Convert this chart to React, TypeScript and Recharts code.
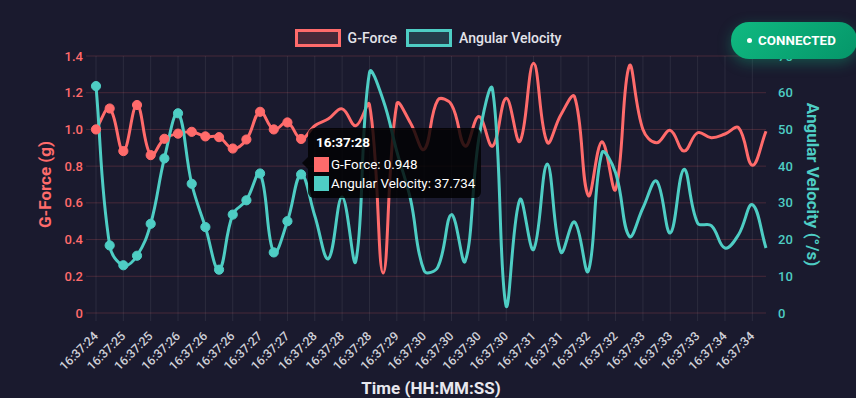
import React from 'react';
import { LineChart, Line, XAxis, YAxis, CartesianGrid, Tooltip, Label } from 'recharts';

const TIMES = [
  '16:37:24', '16:37:24', '16:37:25', '16:37:25', '16:37:25', '16:37:25', '16:37:26', '16:37:26', '16:37:26', '16:37:26',
  '16:37:26', '16:37:27', '16:37:27', '16:37:27', '16:37:27', '16:37:28', '16:37:28', '16:37:28', '16:37:28', '16:37:28',
  '16:37:28', '16:37:29', '16:37:29', '16:37:29', '16:37:30', '16:37:30', '16:37:30', '16:37:30', '16:37:30', '16:37:30',
  '16:37:30', '16:37:31', '16:37:31', '16:37:31', '16:37:31', '16:37:32', '16:37:32', '16:37:32', '16:37:32', '16:37:33',
  '16:37:33', '16:37:33', '16:37:33', '16:37:33', '16:37:33', '16:37:34', '16:37:34', '16:37:34', '16:37:34', '16:37:34',
];

const G_FORCE = [
  1.0, 1.114, 0.882, 1.133, 0.86, 0.949, 0.977, 0.987, 0.962, 0.958,
  0.896, 0.945, 1.096, 1.0, 1.038, 0.948, 1.02, 1.058, 1.112, 1.02,
  1.136, 0.218, 1.138, 1.035, 0.891, 1.16, 1.135, 0.909, 1.07, 0.909,
  1.17, 0.935, 1.36, 0.93, 1.08, 1.178, 0.64, 0.933, 0.673, 1.345,
  1.0, 0.927, 0.995, 0.882, 0.982, 0.955, 0.975, 1.009, 0.805, 0.99,
];

const ANGULAR = [
  61.8, 18.4, 13.0, 15.6, 24.3, 42.1, 54.4, 35.2, 23.4, 11.8,
  26.8, 30.7, 38.0, 16.5, 25.0, 37.734, 26.5, 14.8, 31.6, 14.1,
  65.5, 58.0, 44.0, 31.0, 11.5, 12.5, 26.8, 14.1, 47.5, 60.9,
  1.8, 30.9, 17.3, 40.6, 16.6, 24.8, 11.4, 43.6, 38.2, 20.9,
  28.6, 35.9, 21.8, 39.1, 24.5, 23.8, 17.7, 21.4, 29.5, 17.7,
];

const SERIES_NAMES = ['G-Force', 'Angular Velocity'];
const LEFT_TICKS = [0, 0.2, 0.4, 0.6, 0.8, 1.0, 1.2, 1.4];
const RIGHT_TICKS = [0, 10, 20, 30, 40, 50, 60, 70];
const TOOLTIP_INDEX = 15;
const DOTTED_POINTS = 16;

const data = TIMES.map((t, i) => ({ time: t, g: G_FORCE[i], av: ANGULAR[i] }));

const BG = '#1a1a2e';
const RED = '#ff6b6b';
const CYAN = '#4ecdc4';
const W = 856;
const H = 398;
const MARGIN = { top: 56, right: 0, bottom: 0, left: 0 };
const LEFT_W = 96;
const RIGHT_W = 90;
const XAXIS_H = 85;
const AREA = { left: LEFT_W, right: W - RIGHT_W, top: MARGIN.top, bottom: H - XAXIS_H };

// Chart.js-like spline (tension 0.4) with control points capped to the chart area
const splineCurve = (tension: number) => (context: any) => {
  let pts: number[][] = [];
  const cap = (p: number[]) => [
    Math.min(Math.max(p[0], AREA.left), AREA.right),
    Math.min(Math.max(p[1], AREA.top), AREA.bottom),
  ];
  return {
    areaStart() {},
    areaEnd() {},
    lineStart() { pts = []; },
    point(x: number, y: number) { pts.push([+x, +y]); },
    lineEnd() {
      const n = pts.length;
      if (!n) return;
      context.moveTo(pts[0][0], pts[0][1]);
      if (n === 1) return;
      const cps = pts.map((p, i) => {
        const prev = pts[Math.max(0, i - 1)];
        const next = pts[Math.min(n - 1, i + 1)];
        const d01 = Math.hypot(p[0] - prev[0], p[1] - prev[1]);
        const d12 = Math.hypot(next[0] - p[0], next[1] - p[1]);
        let s01 = d01 / (d01 + d12);
        let s12 = d12 / (d01 + d12);
        if (!isFinite(s01)) s01 = 0;
        if (!isFinite(s12)) s12 = 0;
        const fa = tension * s01;
        const fb = tension * s12;
        return {
          a: cap([p[0] - fa * (next[0] - prev[0]), p[1] - fa * (next[1] - prev[1])]),
          b: cap([p[0] + fb * (next[0] - prev[0]), p[1] + fb * (next[1] - prev[1])]),
        };
      });
      for (let i = 1; i < n; i++) {
        const c1 = cps[i - 1].b;
        const c2 = cps[i].a;
        context.bezierCurveTo(c1[0], c1[1], c2[0], c2[1], pts[i][0], pts[i][1]);
      }
    },
  };
};
const curve = splineCurve(0.4);

const makeDot = (color: string) => (props: any) => {
  const { cx, cy, index } = props;
  if (index >= DOTTED_POINTS || cx == null || cy == null) return <g key={`d-${index}`} />;
  return <circle key={`d-${index}`} cx={cx} cy={cy} r={4.6} fill={color} stroke={color} strokeWidth={1} />;
};

const XTick = (props: any) => {
  const { x, y, payload } = props;
  return (
    <text
      x={x}
      y={y}
      transform={`rotate(-45 ${x} ${y})`}
      textAnchor="end"
      dominantBaseline="central"
      fill="#cfd0d8"
      fontSize={12.3}
      fontWeight={500}
      fontFamily="Roboto"
    >
      {payload.value}
    </text>
  );
};

const TooltipBox = (props: any) => {
  const { active, payload, label } = props;
  if (!active || !payload || !payload.length) return null;
  return (
    <div style={{ display: 'flex', alignItems: 'center', fontFamily: 'Roboto' }}>
      <div
        style={{
          width: 0,
          height: 0,
          borderTop: '6px solid transparent',
          borderBottom: '6px solid transparent',
          borderRight: '6px solid rgba(0,0,0,0.8)',
        }}
      />
      <div
        style={{
          background: 'rgba(0,0,0,0.8)',
          borderRadius: 6,
          padding: '6px 6px 7px 6px',
          color: '#fff',
          whiteSpace: 'nowrap',
        }}
      >
        <div style={{ fontWeight: 700, fontSize: 13.5, lineHeight: '16px', marginBottom: 6, paddingLeft: 2 }}>{label}</div>
        {payload.map((p: any, i: number) => (
          <div
            key={i}
            style={{ display: 'flex', alignItems: 'center', height: 16, marginTop: i ? 3 : 0, fontSize: 13.4 }}
          >
            <span style={{ display: 'inline-block', width: 15, height: 15, background: p.color, marginRight: 2 }} />
            <span>{`${p.name}: ${p.value}`}</span>
          </div>
        ))}
      </div>
    </div>
  );
};

const Legend = () => (
  <div
    style={{
      position: 'absolute',
      left: 0,
      top: 29,
      width: W,
      display: 'flex',
      justifyContent: 'center',
      alignItems: 'center',
      fontFamily: 'Roboto',
      fontSize: 14,
      fontWeight: 500,
      color: '#e4e4ea',
      zIndex: 2,
    }}
  >
    {SERIES_NAMES.map((name, i) => {
      const c = i === 0 ? RED : CYAN;
      const fill = i === 0 ? 'rgba(255,107,107,0.2)' : 'rgba(78,205,196,0.2)';
      return (
        <div key={name} style={{ display: 'flex', alignItems: 'center', marginLeft: i ? 9 : 0 }}>
          <div style={{ width: 40, height: 12, border: `3px solid ${c}`, background: fill }} />
          <span style={{ marginLeft: 7, lineHeight: '18px' }}>{name}</span>
        </div>
      );
    })}
  </div>
);

const Badge = () => (
  <div
    style={{
      position: 'absolute',
      left: 731,
      top: 22,
      width: 126,
      height: 37,
      borderRadius: 18,
      background: 'linear-gradient(135deg, #10b981 0%, #059669 100%)',
      boxShadow: '0 4px 14px rgba(16,185,129,0.35)',
      display: 'flex',
      alignItems: 'center',
      paddingLeft: 16,
      boxSizing: 'border-box',
      color: '#fff',
      fontFamily: 'Roboto',
      fontWeight: 700,
      fontSize: 13.3,
      letterSpacing: 0.1,
      zIndex: 3,
    }}
  >
    <span style={{ display: 'inline-block', width: 5, height: 5, borderRadius: 3, background: '#fff', marginRight: 6 }} />
    CONNECTED
  </div>
);

const LeftTitle = (props: any) => {
  const vb = props.viewBox || { x: 0, y: 0, width: 0, height: 0 };
  const cx = vb.x + 45;
  const cy = vb.y + vb.height / 2;
  return (
    <text x={cx} y={cy} transform={`rotate(-90 ${cx} ${cy})`} textAnchor="middle" dominantBaseline="central"
      fill={RED} fontSize={17} fontWeight={700} fontFamily="Roboto">G-Force (g)</text>
  );
};

const RightTitle = (props: any) => {
  const vb = props.viewBox || { x: 0, y: 0, width: 0, height: 0 };
  const cx = vb.x + 47;
  const cy = vb.y + vb.height / 2;
  return (
    <text x={cx} y={cy} transform={`rotate(90 ${cx} ${cy})`} textAnchor="middle" dominantBaseline="central"
      fill={CYAN} fontSize={17} fontWeight={700} fontFamily="Roboto">Angular Velocity (°/s)</text>
  );
};

const BottomTitle = (props: any) => {
  const vb = props.viewBox || { x: 0, y: 0, width: 0, height: 0 };
  const cx = vb.x + vb.width / 2;
  const cy = vb.y + 75;
  return (
    <text x={cx} y={cy} textAnchor="middle" dominantBaseline="central"
      fill="#e8e8ee" fontSize={17} fontWeight={700} fontFamily="Roboto">Time (HH:MM:SS)</text>
  );
};

export default function App() {
  return (
    <div style={{ position: 'absolute', left: 0, top: 0, width: W, height: H, background: BG, overflow: 'hidden' }}>
      <Legend />
      <Badge />
      <LineChart width={W} height={H} data={data} margin={MARGIN}>
        <CartesianGrid yAxisId="left" horizontal vertical={false} stroke="rgba(255,107,107,0.2)" syncWithTicks />
        <CartesianGrid yAxisId="left" horizontal={false} vertical stroke="rgba(255,255,255,0.08)" syncWithTicks />
        <XAxis
          dataKey="time"
          interval={1}
          height={XAXIS_H}
          axisLine={false}
          tickLine={{ stroke: 'rgba(255,255,255,0.08)' }}
          tickSize={8}
          tickMargin={13}
          tick={<XTick />}
        >
          <Label content={<BottomTitle />} />
        </XAxis>
        <YAxis
          yAxisId="left"
          orientation="left"
          width={LEFT_W}
          domain={[0, 1.4]}
          ticks={LEFT_TICKS}
          axisLine={false}
          tickLine={{ stroke: 'rgba(255,107,107,0.2)' }}
          tickSize={10}
          tickMargin={3}
          tickFormatter={(v: number) => (v === 0 ? '0' : v.toFixed(1))}
          tick={{ fill: RED, fontSize: 13, fontWeight: 500, fontFamily: 'Roboto' }}
        >
          <Label content={<LeftTitle />} />
        </YAxis>
        <YAxis
          yAxisId="right"
          orientation="right"
          width={RIGHT_W}
          domain={[0, 70]}
          ticks={RIGHT_TICKS}
          axisLine={false}
          tickLine={false}
          tickSize={4}
          tickMargin={8}
          tick={{ fill: CYAN, fontSize: 13, fontWeight: 500, fontFamily: 'Roboto' }}
        >
          <Label content={<RightTitle />} />
        </YAxis>
        <Line
          yAxisId="left"
          dataKey="g"
          name={SERIES_NAMES[0]}
          stroke={RED}
          strokeWidth={3}
          type={curve as any}
          dot={makeDot(RED)}
          activeDot={false}
          isAnimationActive={false}
        />
        <Line
          yAxisId="right"
          dataKey="av"
          name={SERIES_NAMES[1]}
          stroke={CYAN}
          strokeWidth={3}
          type={curve as any}
          dot={makeDot(CYAN)}
          activeDot={false}
          isAnimationActive={false}
        />
        <Tooltip
          active
          defaultIndex={TOOLTIP_INDEX}
          cursor={false}
          position={{ x: 302, y: 128 }}
          content={<TooltipBox />}
          isAnimationActive={false}
          wrapperStyle={{ outline: 'none', zIndex: 4 }}
        />
      </LineChart>
    </div>
  );
}
